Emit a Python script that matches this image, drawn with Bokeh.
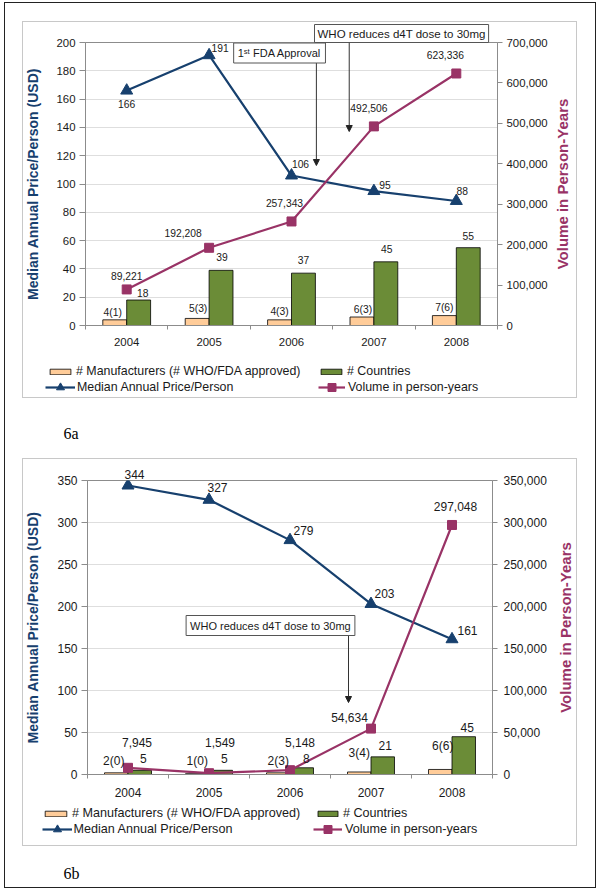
import math
from bokeh.plotting import figure
from bokeh.models import (Range1d, LinearAxis, FixedTicker, SingleIntervalTicker,
                          NumeralTickFormatter, ColumnDataSource, LabelSet, Label, Arrow,
                          NormalHead, Legend, LegendItem, Grid, Title, Spacer)
from bokeh.layouts import column, row
from bokeh.embed import file_html
from bokeh.resources import INLINE
from bokeh.core.properties import value

# ---------------- data ----------------
years = ["2004", "2005", "2006", "2007", "2008"]

# Figure 6a
a_price = [166, 191, 106, 95, 88]
a_volume = [89221, 192208, 257343, 492506, 623336]
a_manuf = [4, 5, 4, 6, 7]
a_manuf_labels = ["4(1)", "5(3)", "4(3)", "6(3)", "7(6)"]
a_countries = [18, 39, 37, 45, 55]

# Figure 6b
b_price = [344, 327, 279, 203, 161]
b_volume = [7945, 1549, 5148, 54634, 297048]
b_manuf = [2, 1, 2, 3, 6]
b_manuf_labels = ["2(0)", "1(0)", "2(3)", "3(4)", "6(6)"]
b_countries = [5, 5, 8, 21, 45]

legend_labels = ["# Manufacturers (# WHO/FDA approved)", "# Countries",
                 "Median Annual Price/Person", "Volume in person-years"]
left_title = "Median Annual Price/Person (USD)"
right_title = "Volume in Person-Years"
note_fda = "1\u02e2\u1d57 FDA Approval"
note_who = "WHO reduces d4T dose to 30mg"

# ---------------- styles ----------------
NAVY = "#17406E"
PLUM = "#993366"
PEACH = "#FFCC99"
OLIVE = "#6B8C37"
AXIS_GRAY = "#8C8C8C"
GRID = "#DEDEDE"
TXT = "#1A1A1A"
FONT = "Liberation Sans"
PANEL_X = 22
PANEL_W = 555
CHART_W = 530
RT_W = PANEL_W - CHART_W
half = 0.145


def build_chart(price, volume, manuf, manuf_labels, countries, cfg):
    top = cfg["page_top"]
    fl, fr, ft, fb = cfg["frame"]
    H = fb + 28 - top
    n = len(years)
    fw, fh = fr - fl, fb - ft
    ymax, vmax = cfg["ymax"], cfg["vmax"]

    def X(px):
        return (px - fl) / fw * n

    def Y(py):
        return (fb - py) / fh * ymax

    p = figure(width=CHART_W, height=H, output_backend="svg", toolbar_location=None,
               x_range=Range1d(0, n), y_range=Range1d(0, ymax),
               x_axis_type=None, y_axis_type=None,
               min_border_left=fl - PANEL_X, min_border_right=PANEL_X + CHART_W - fr,
               min_border_top=ft - top, min_border_bottom=28)
    p.extra_y_ranges = {"vol": Range1d(0, vmax)}
    p.outline_line_color = AXIS_GRAY
    p.outline_line_width = 1
    p.background_fill_color = "white"
    p.border_fill_color = None

    centers = [i + 0.5 for i in range(n)]

    xax = LinearAxis(ticker=FixedTicker(ticks=centers, minor_ticks=list(range(n + 1))),
                     major_label_overrides={c: yr for c, yr in zip(centers, years)},
                     major_tick_in=0, major_tick_out=0, minor_tick_in=0, minor_tick_out=4,
                     minor_tick_line_color=AXIS_GRAY, axis_line_color=AXIS_GRAY,
                     major_label_standoff=cfg["x_standoff"],
                     major_label_text_font=FONT, major_label_text_font_size=cfg["tick_fs"],
                     major_label_text_color=TXT)
    p.add_layout(xax, "below")

    yax = LinearAxis(ticker=SingleIntervalTicker(interval=cfg["ystep"], num_minor_ticks=0),
                     axis_label=left_title, axis_label_text_font=FONT,
                     axis_label_text_font_style="bold", axis_label_text_font_size=cfg["ltitle_fs"],
                     axis_label_text_color=NAVY, axis_label_standoff=cfg["l_title_standoff"],
                     major_tick_in=0, major_tick_out=6, minor_tick_out=0, minor_tick_in=0,
                     major_tick_line_color=AXIS_GRAY, axis_line_color=AXIS_GRAY,
                     major_label_standoff=4, major_label_text_font=FONT,
                     major_label_text_font_size=cfg["tick_fs"], major_label_text_color=TXT)
    p.add_layout(yax, "left")

    rax = LinearAxis(y_range_name="vol",
                     ticker=SingleIntervalTicker(interval=cfg["vstep"], num_minor_ticks=0),
                     formatter=NumeralTickFormatter(format="0,0"),
                     major_tick_in=0, major_tick_out=5, minor_tick_out=0, minor_tick_in=0,
                     major_tick_line_color=AXIS_GRAY, axis_line_color=AXIS_GRAY,
                     major_label_standoff=cfg["r_standoff"], major_label_text_font=FONT,
                     major_label_text_font_size=cfg["tick_fs"], major_label_text_color=TXT)
    p.add_layout(rax, "right")

    p.add_layout(Grid(dimension=1, ticker=yax.ticker, grid_line_color=GRID))

    src = ColumnDataSource(dict(xm=[c - half for c in centers], xc=[c + half for c in centers],
                                manuf=manuf, countries=countries))
    p.vbar(x="xm", top="manuf", width=2 * half, bottom=0, source=src,
           fill_color=PEACH, line_color="black", line_width=0.8)
    p.vbar(x="xc", top="countries", width=2 * half, bottom=0, source=src,
           fill_color=OLIVE, line_color="black", line_width=0.8)

    p.line(centers, price, line_color=NAVY, line_width=2.2)
    p.scatter(centers, price, marker="triangle", size=12, fill_color=NAVY, line_color=NAVY)
    p.line(centers, volume, y_range_name="vol", line_color=PLUM, line_width=2.2)
    p.scatter(centers, volume, y_range_name="vol", marker="square", size=9,
              fill_color=PLUM, line_color=PLUM)

    def labelset(xs, ys, texts, offs, fs, rng="default", skip=()):
        dxs, dys = offs
        keep = [i for i in range(len(xs)) if i not in skip]
        s = ColumnDataSource(dict(x=[xs[i] for i in keep], y=[ys[i] for i in keep],
                                  t=[texts[i] for i in keep], dx=[dxs[i] for i in keep],
                                  dy=[dys[i] for i in keep]))
        p.add_layout(LabelSet(source=s, x="x", y="y", text="t", x_offset="dx", y_offset="dy",
                              y_range_name=rng, text_align="center", text_baseline="middle",
                              text_font=value(FONT), text_font_size=value(fs), text_color=TXT))

    price_txt = [str(v) for v in price]
    labelset([c - half for c in centers], manuf, manuf_labels, cfg["off_manuf"], cfg["data_fs"])
    labelset([c + half for c in centers], countries, [str(v) for v in countries],
             cfg["off_countries"], cfg["data_fs"])
    labelset(centers, price, price_txt, cfg["off_price"], cfg["data_fs"],
             skip=cfg.get("price_above", ()))
    labelset(centers, volume, [f"{v:,}" for v in volume], cfg["off_volume"], cfg["data_fs"], "vol")

    # a price label that sits above the plot frame goes in the top panel
    for i in cfg.get("price_above", ()):
        p.add_layout(Title(text=price_txt[i], align="left",
                           offset=centers[i] / n * fw + cfg["off_price"][0][i] - 10,
                           standoff=3, text_font=FONT, text_font_size=cfg["data_fs"],
                           text_font_style="normal", text_color=TXT), "above")

    for text, where, (cx, cy), (ax, ay0, ay1) in cfg["notes"]:
        p.add_layout(Arrow(end=NormalHead(size=6, fill_color="#222222", line_color="#222222"),
                           x_start=X(ax), y_start=Y(ay0), x_end=X(ax), y_end=Y(ay1),
                           line_color="#333333", line_width=1))
        if where == "above":
            p.add_layout(Title(text=text, align="left", offset=cx - fl, standoff=0,
                               text_font=FONT, text_font_size="11.5px", text_font_style="normal",
                               text_color=TXT, background_fill_color="white",
                               border_line_color="#555555", border_line_width=1, padding=3),
                         "above")
        else:
            p.add_layout(Label(x=X(cx), y=Y(cy), text=text, text_align="center",
                               text_baseline="middle", text_font=FONT, text_font_size="11px",
                               text_color=TXT, background_fill_color="white",
                               border_line_color="#555555", border_line_width=1, padding=4))
    return p


def build_right_title(cfg):
    H = cfg["frame"][3] + 28 - cfg["page_top"]
    t = figure(width=RT_W, height=H, output_backend="svg", toolbar_location=None,
               x_range=Range1d(0, 1), y_range=Range1d(0, 1), x_axis_type=None, y_axis_type=None,
               min_border=0, min_border_left=0, min_border_right=0, min_border_top=0,
               min_border_bottom=0, outline_line_color=None, background_fill_color=None,
               border_fill_color=None)
    t.add_layout(Label(x=cfg["rt_x"], y=0.5, text=right_title, angle=math.pi / 2,
                       text_align="center", text_baseline="middle", text_font=FONT,
                       text_font_style="bold", text_font_size=cfg["rtitle_fs"], text_color=PLUM))
    return t


def build_legend(cfg):
    H = cfg["leg_h"]
    ltop = cfg["frame"][3] + 28
    q = figure(width=PANEL_W, height=H, output_backend="svg", toolbar_location=None,
               x_range=Range1d(0, 1), y_range=Range1d(0, 1), x_axis_type=None, y_axis_type=None,
               min_border=0, min_border_left=0, min_border_right=0, min_border_top=0,
               min_border_bottom=0, outline_line_color=None, background_fill_color=None,
               border_fill_color=None)
    # legend-only renderers: their single point lies outside the visible range
    rm = q.vbar(x=[5], top=[6], bottom=[5], width=0.1, fill_color=PEACH, line_color="black",
                line_width=0.8)
    rc = q.vbar(x=[5], top=[6], bottom=[5], width=0.1, fill_color=OLIVE, line_color="black",
                line_width=0.8)
    rl = q.line(x=[5, 6], y=[5, 5], line_color=NAVY, line_width=2.2)
    rs = q.scatter(x=[5], y=[5], marker="triangle", fill_color=NAVY, line_color=NAVY)
    vl = q.line(x=[5, 6], y=[5, 5], line_color=PLUM, line_width=2.2)
    vs = q.scatter(x=[5], y=[5], marker="square", fill_color=PLUM, line_color=PLUM)
    rends = [[rm], [rc], [rl, rs], [vl, vs]]
    for lab, rr, (gx, gw, st, ry, gh, ih) in zip(legend_labels, rends, cfg["legend"]):
        leg = Legend(items=[LegendItem(label=value(lab), renderers=rr)],
                     location=(gx - PANEL_X, H - (ry - ltop + ih / 2)), orientation="horizontal",
                     padding=0, margin=0, spacing=0, border_line_color=None,
                     background_fill_alpha=0, glyph_width=gw, glyph_height=gh,
                     label_height=gh, label_width=0, label_standoff=st,
                     label_text_font=FONT, label_text_font_size=cfg["legend_fs"],
                     label_text_color=TXT)
        q.add_layout(leg)
    return q


def build_caption(text, width, height, x, y):
    c = figure(width=width, height=height, output_backend="svg", toolbar_location=None,
               x_range=Range1d(0, width), y_range=Range1d(0, height),
               x_axis_type=None, y_axis_type=None, min_border=0,
               outline_line_color=None, background_fill_color=None, border_fill_color=None)
    c.add_layout(Label(x=x, y=height - y, text=text, text_align="left", text_baseline="middle",
                       text_font="Liberation Serif", text_font_size="16px", text_color="black"))
    return c


cfg_a = dict(
    page_top=21, frame=(83, 497, 42, 325), ymax=200, ystep=20, vmax=700000, vstep=100000,
    tick_fs="11.4px", data_fs="10.3px", legend_fs="12.4px", ltitle_fs="14px", rtitle_fs="15px",
    l_title_standoff=12, r_standoff=4, x_standoff=8, rt_x=0.4,
    off_price=([0, 11, 9, 11, 6], [-13, 7, 12, 6, 10]),
    off_volume=([0, -26, -7, -5, -11], [13, 15, 18, 18, 18]),
    off_manuf=([-2, 1, 0, 1, 0], [7, 10, 8, 8, 8]),
    off_countries=([4, 1, 0, 1, 0], [7.5, 13, 13.6, 13, 12]),
    leg_h=45,
    legend=[(47, 26, 3, 371, 7, 14), (318, 26, 3, 371, 7, 14),
            (45, 30, 2, 387, 20, 20), (318, 27, 3, 387, 20, 20)],
    notes=[(note_fda, "inside", (278, 52.5), (315, 55, 165)),
           (note_who, "above", (312, 33), (348, 42, 131))],
)

cfg_b = dict(
    page_top=458, frame=(87, 492, 480, 774), ymax=350, ystep=50, vmax=350000, vstep=50000,
    tick_fs="12px", data_fs="12px", legend_fs="12.6px", ltitle_fs="14px", rtitle_fs="15px",
    l_title_standoff=13, r_standoff=6, x_standoff=9, rt_x=0.5,
    off_price=([6.5, 8.5, 13.5, 13.5, 15.5], [15, 12, 10, 10.5, 9]),
    price_above=(0,),
    off_volume=([9, 11, 10, -21.5, 3.5], [25, 31, 28, 11, 18.5]),
    off_manuf=([-2.5, 0, 0, 0, 2.5], [12, 13, 12, 18.5, 23]),
    off_countries=([3.5, 3.5, 4.5, 2.5, 3.5], [12, 12, 9, 11, 9]),
    leg_h=44,
    legend=[(42, 27, 3, 813, 7, 14), (315, 25, 3, 813, 7, 14),
            (41.5, 30, 2, 829, 20, 20), (313, 29, 3, 829, 20, 20)],
    notes=[(note_who, "inside", (270, 625), (348, 625, 702))],
)

chart_a = build_chart(a_price, a_volume, a_manuf, a_manuf_labels, a_countries, cfg_a)
rt_a = build_right_title(cfg_a)
leg_a = build_legend(cfg_a)
chart_b = build_chart(b_price, b_volume, b_manuf, b_manuf_labels, b_countries, cfg_b)
rt_b = build_right_title(cfg_b)
leg_b = build_legend(cfg_b)
cap_a = build_caption("6a", 592, 60, 59, 35)
cap_b = build_caption("6b", 592, 42, 59, 27)

panel_style = {"outline": "1px solid #C8C8C8", "outline-offset": "-1px"}
panel_a = column(row(chart_a, rt_a, spacing=0), row(leg_a), spacing=0, styles=panel_style)
panel_b = column(row(chart_b, rt_b, spacing=0), row(leg_b), spacing=0, styles=panel_style)

inner = column(Spacer(width=592, height=19),
               row(Spacer(width=18, height=377), panel_a, spacing=0),
               cap_a,
               row(Spacer(width=18, height=388), panel_b, spacing=0),
               cap_b,
               spacing=0,
               styles={"outline": "1.5px solid #222222", "outline-offset": "-1.5px"})
root = column(Spacer(width=600, height=2),
              row(Spacer(width=4, height=886), inner, spacing=0),
              spacing=0)

open("out.html", "w").write(file_html(root, INLINE))
